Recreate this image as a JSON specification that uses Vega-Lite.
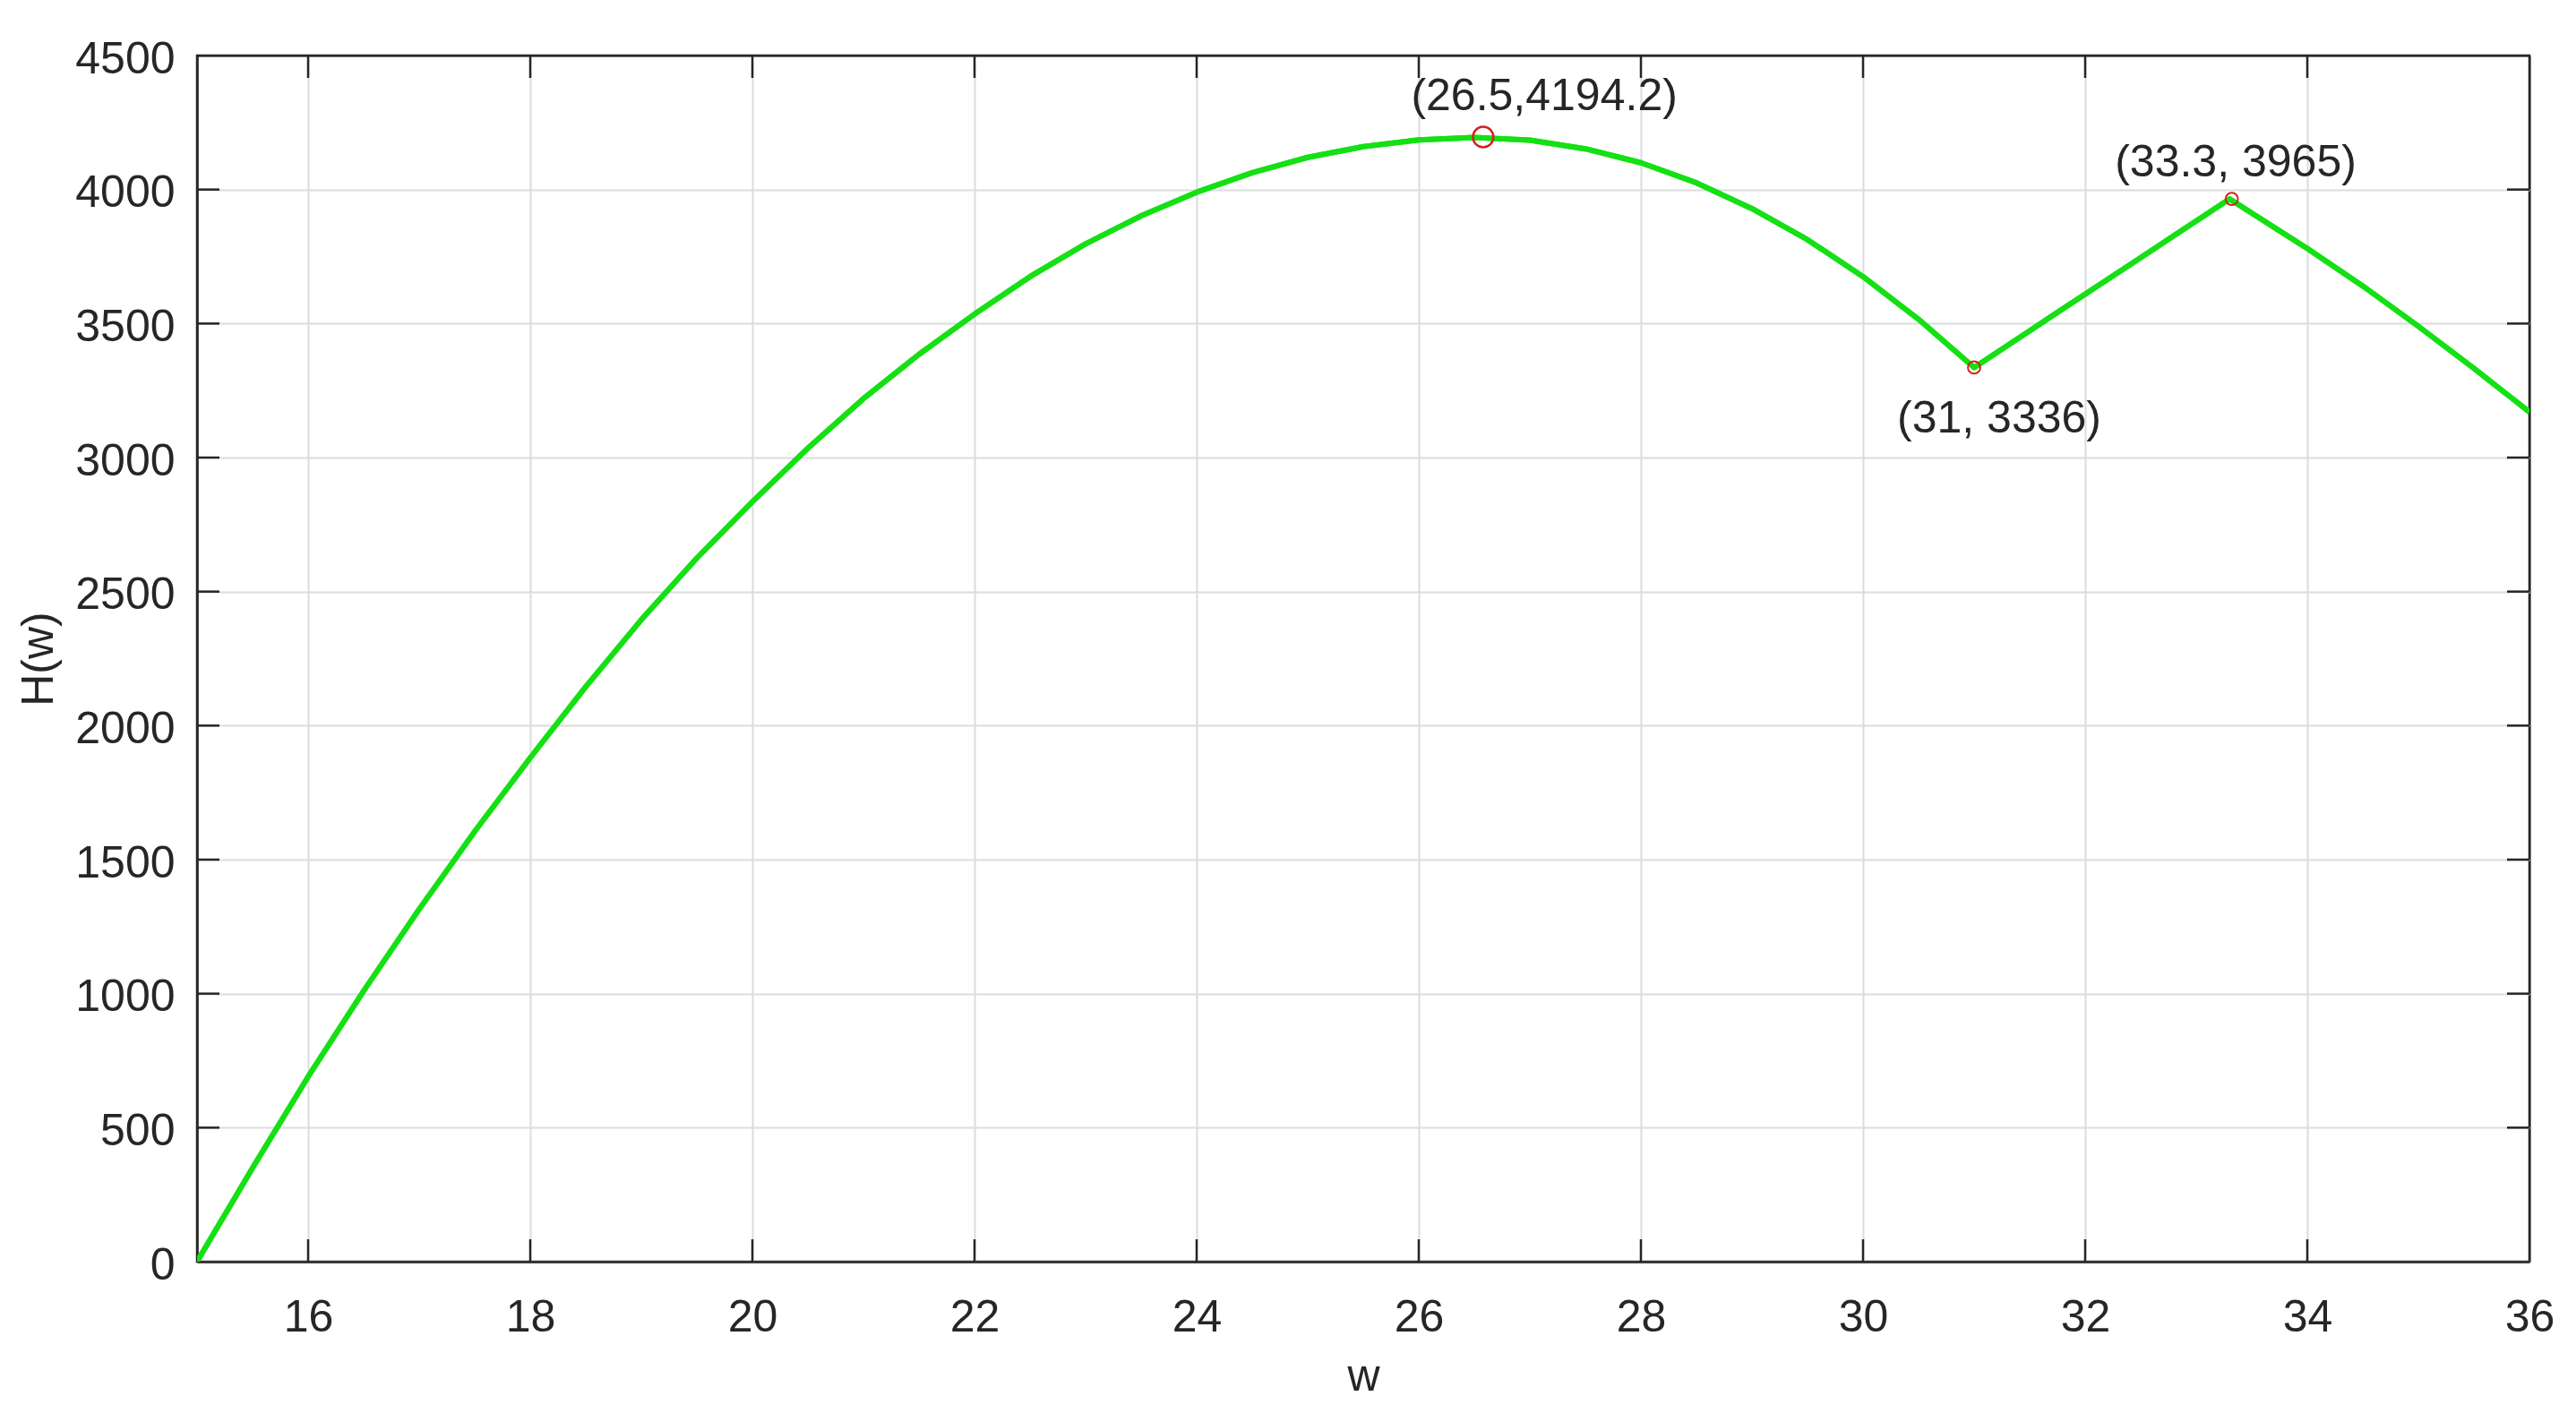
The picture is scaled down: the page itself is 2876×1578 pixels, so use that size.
{
  "$schema": "https://vega.github.io/schema/vega-lite/v6.json",
  "width": 2604,
  "height": 1347,
  "autosize": {"type": "none"},
  "padding": {"left": 220, "top": 62, "right": 52, "bottom": 169},
  "background": "white",
  "config": {
    "view": {"stroke": "#262626", "strokeWidth": 2.5},
    "font": "Liberation Sans",
    "axis": {
      "labelFont": "Liberation Sans",
      "titleFont": "Liberation Sans",
      "labelFontSize": 50,
      "titleFontSize": 50,
      "titleFontWeight": "normal",
      "labelColor": "#262626",
      "titleColor": "#262626",
      "domainColor": "#262626",
      "domainWidth": 2.5,
      "ticks": false,
      "gridColor": "#dcdcdc",
      "gridWidth": 2,
      "gridOpacity": 1,
      "labelFlush": false,
      "labelOverlap": false
    }
  },
  "datasets": {
    "curve": [
      {"w": 15, "H": 0}, {"w": 15.5, "H": 350}, {"w": 16, "H": 690}, {"w": 16.5, "H": 1010},
      {"w": 17, "H": 1315}, {"w": 17.5, "H": 1605}, {"w": 18, "H": 1880}, {"w": 18.5, "H": 2145},
      {"w": 19, "H": 2395}, {"w": 19.5, "H": 2625}, {"w": 20, "H": 2835}, {"w": 20.5, "H": 3035},
      {"w": 21, "H": 3220}, {"w": 21.5, "H": 3385}, {"w": 22, "H": 3535}, {"w": 22.5, "H": 3675},
      {"w": 23, "H": 3797}, {"w": 23.5, "H": 3902}, {"w": 24, "H": 3990}, {"w": 24.5, "H": 4063},
      {"w": 25, "H": 4120}, {"w": 25.5, "H": 4160}, {"w": 26, "H": 4185}, {"w": 26.5, "H": 4194.2},
      {"w": 27, "H": 4184}, {"w": 27.5, "H": 4152}, {"w": 28, "H": 4100}, {"w": 28.5, "H": 4025},
      {"w": 29, "H": 3929}, {"w": 29.5, "H": 3813}, {"w": 30, "H": 3675}, {"w": 30.5, "H": 3516},
      {"w": 31, "H": 3336}, {"w": 31.5, "H": 3473}, {"w": 32, "H": 3610}, {"w": 32.5, "H": 3746},
      {"w": 33, "H": 3883}, {"w": 33.3, "H": 3965}, {"w": 33.5, "H": 3912}, {"w": 34, "H": 3780},
      {"w": 34.5, "H": 3640}, {"w": 35, "H": 3490}, {"w": 35.5, "H": 3333}, {"w": 36, "H": 3170}
    ],
    "peak": [{"w": 26.58, "H": 4196}],
    "corners": [{"w": 31.0, "H": 3336}, {"w": 33.32, "H": 3965}],
    "labels": [
      {"w": 27.13, "H": 4297, "label": "(26.5,4194.2)"},
      {"w": 33.355, "H": 4049, "label": "(33.3, 3965)"},
      {"w": 31.226, "H": 3094, "label": "(31, 3336)"}
    ],
    "xticks": [{"w": 16}, {"w": 18}, {"w": 20}, {"w": 22}, {"w": 24}, {"w": 26}, {"w": 28}, {"w": 30}, {"w": 32}, {"w": 34}],
    "yticks": [{"H": 500}, {"H": 1000}, {"H": 1500}, {"H": 2000}, {"H": 2500}, {"H": 3000}, {"H": 3500}, {"H": 4000}]
  },
  "layer": [
    {
      "data": {"name": "curve"},
      "mark": {"type": "line", "color": "#14e014", "strokeWidth": 6, "clip": true, "strokeJoin": "round"},
      "encoding": {
        "x": {
          "field": "w", "type": "quantitative",
          "scale": {"domain": [15, 36], "nice": false, "zero": false},
          "axis": {
            "title": "w", "format": "d", "values": [16, 18, 20, 22, 24, 26, 28, 30, 32, 34, 36],
            "grid": true, "labelPadding": 37.5,
            "gridColor": {"condition": {"test": "datum.value >= 36", "value": "#262626"}, "value": "#dcdcdc"},
            "titleX": 1302, "titleY": 143, "titleBaseline": "alphabetic", "titleAlign": "center"
          }
        },
        "y": {
          "field": "H", "type": "quantitative",
          "scale": {"domain": [0, 4500], "nice": false, "zero": false},
          "axis": {
            "title": "H(w)", "format": "d", "values": [0, 500, 1000, 1500, 2000, 2500, 3000, 3500, 4000, 4500],
            "grid": true, "labelPadding": 25, "labelOffset": 4,
            "gridColor": {"condition": {"test": "datum.value >= 4500", "value": "#262626"}, "value": "#dcdcdc"},
            "titleX": -162, "titleY": 673.5, "titleBaseline": "alphabetic", "titleAlign": "center", "titleAngle": -90
          }
        }
      }
    },
    {
      "data": {"name": "xticks"},
      "mark": {"type": "rule", "color": "#262626", "strokeWidth": 2.5},
      "encoding": {
        "x": {"field": "w", "type": "quantitative"},
        "y": {"datum": 0, "type": "quantitative"},
        "y2": {"datum": 83.5}
      }
    },
    {
      "data": {"name": "xticks"},
      "mark": {"type": "rule", "color": "#262626", "strokeWidth": 2.5},
      "encoding": {
        "x": {"field": "w", "type": "quantitative"},
        "y": {"datum": 4500, "type": "quantitative"},
        "y2": {"datum": 4416.5}
      }
    },
    {
      "data": {"name": "yticks"},
      "mark": {"type": "rule", "color": "#262626", "strokeWidth": 2.5},
      "encoding": {
        "y": {"field": "H", "type": "quantitative"},
        "x": {"datum": 15, "type": "quantitative"},
        "x2": {"datum": 15.2016}
      }
    },
    {
      "data": {"name": "yticks"},
      "mark": {"type": "rule", "color": "#262626", "strokeWidth": 2.5},
      "encoding": {
        "y": {"field": "H", "type": "quantitative"},
        "x": {"datum": 36, "type": "quantitative"},
        "x2": {"datum": 35.7984}
      }
    },
    {
      "data": {"name": "curve"},
      "mark": {"type": "line", "color": "#14e014", "strokeWidth": 6, "clip": true, "strokeJoin": "round"},
      "encoding": {
        "x": {"field": "w", "type": "quantitative"},
        "y": {"field": "H", "type": "quantitative"}
      }
    },
    {
      "data": {"name": "peak"},
      "mark": {"type": "point", "shape": "circle", "filled": false, "stroke": "#d62020", "strokeWidth": 2.5, "size": 520, "opacity": 1},
      "encoding": {
        "x": {"field": "w", "type": "quantitative"},
        "y": {"field": "H", "type": "quantitative"}
      }
    },
    {
      "data": {"name": "corners"},
      "mark": {"type": "point", "shape": "circle", "filled": false, "stroke": "#d62020", "strokeWidth": 2, "size": 190, "opacity": 1},
      "encoding": {
        "x": {"field": "w", "type": "quantitative"},
        "y": {"field": "H", "type": "quantitative"}
      }
    },
    {
      "data": {"name": "labels"},
      "mark": {"type": "text", "font": "Liberation Sans", "fontSize": 50, "color": "#262626", "align": "center", "baseline": "alphabetic"},
      "encoding": {
        "x": {"field": "w", "type": "quantitative"},
        "y": {"field": "H", "type": "quantitative"},
        "text": {"field": "label"}
      }
    }
  ]
}
